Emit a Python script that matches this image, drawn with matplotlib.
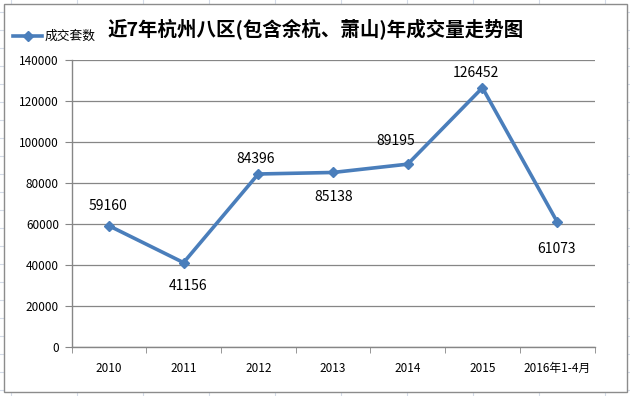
import numpy as np
import matplotlib.pyplot as plt
from matplotlib.patches import Rectangle
from matplotlib.lines import Line2D

plt.rcParams['font.family'] = ['Noto Sans CJK SC', 'DejaVu Sans']

categories = ['2010', '2011', '2012', '2013', '2014', '2015', '2016年1-4月']
deals = [59160, 41156, 84396, 85138, 89195, 126452, 61073]
yticks = np.arange(0, 140001, 20000)

# data label offsets from each point, in pixels (dx, dy; positive dy = up)
label_offsets = [(-1, 20), (4, -23), (-3, 15), (1, -25), (-12, 23), (-6, 15), (-1, -27)]

line_color = '#4A7EBB'
grid_color = '#868686'

fig = plt.figure(figsize=(6.3, 3.96), dpi=100)
W, H = 630, 396

# spreadsheet cells behind the chart
for x in range(11, W, 66):
    fig.add_artist(Line2D([x / W, x / W], [0, 1], color='#d4dbe8', lw=0.8, zorder=0))
for y in range(6, H, 18):
    fig.add_artist(Line2D([0, 1], [y / H, y / H], color='#d4dbe8', lw=0.8, zorder=0))

# chart area box
fig.add_artist(Rectangle((4 / W, 1 - 392 / H), 623 / W, 388 / H, facecolor='white',
                         edgecolor='#8c8c8c', lw=1.0, zorder=1))

ax = fig.add_axes([71.5 / W, 1 - 347 / H, 523 / W, 287 / H], zorder=2)
ax.patch.set_alpha(0)
x = np.arange(len(categories))
ax.plot(x, deals, color=line_color, lw=2.6, marker='D', markersize=5.5,
        markerfacecolor=line_color, markeredgecolor=line_color, zorder=3)

for xi, v, (dx, dy) in zip(x, deals, label_offsets):
    ax.annotate(str(v), (xi, v), xytext=(dx * 0.72, dy * 0.72), textcoords='offset points',
                ha='center', va='center', fontsize=10, color='black')

ax.set_xlim(-0.5, len(categories) - 0.5)
ax.set_ylim(0, 140000)
ax.set_yticks(yticks)
ax.set_yticklabels([str(t) for t in yticks], fontsize=8.5)
ax.set_xticks(x)
ax.set_xticklabels(categories, fontsize=8.5)
ax.set_xticks(np.arange(-0.5, len(categories), 1), minor=True)
ax.tick_params(axis='x', which='major', length=0, pad=11)
ax.tick_params(axis='x', which='minor', length=4, color=grid_color, direction='out')
ax.tick_params(axis='y', length=5, color=grid_color, pad=4)
ax.grid(axis='y', color=grid_color, lw=0.9)
ax.set_axisbelow(True)
for s in ['top', 'right']:
    ax.spines[s].set_visible(False)
for s in ['left', 'bottom']:
    ax.spines[s].set_color(grid_color)
    ax.spines[s].set_linewidth(1.0)

fig.text(316 / W, 1 - 30 / H, '近7年杭州八区(包含余杭、萧山)年成交量走势图',
         ha='center', va='center', fontsize=14, fontweight='bold', zorder=3)

# legend
fig.add_artist(Line2D([13 / W, 42 / W], [1 - 36 / H, 1 - 36 / H], color=line_color,
                      lw=2.6, zorder=3))
fig.add_artist(Line2D([27.5 / W], [1 - 36 / H], color=line_color, marker='D',
                      markersize=5, zorder=3))
fig.text(45 / W, 1 - 36 / H, '成交套数', ha='left', va='center', fontsize=9.2, zorder=3)

fig.savefig('out.png', dpi=100)
